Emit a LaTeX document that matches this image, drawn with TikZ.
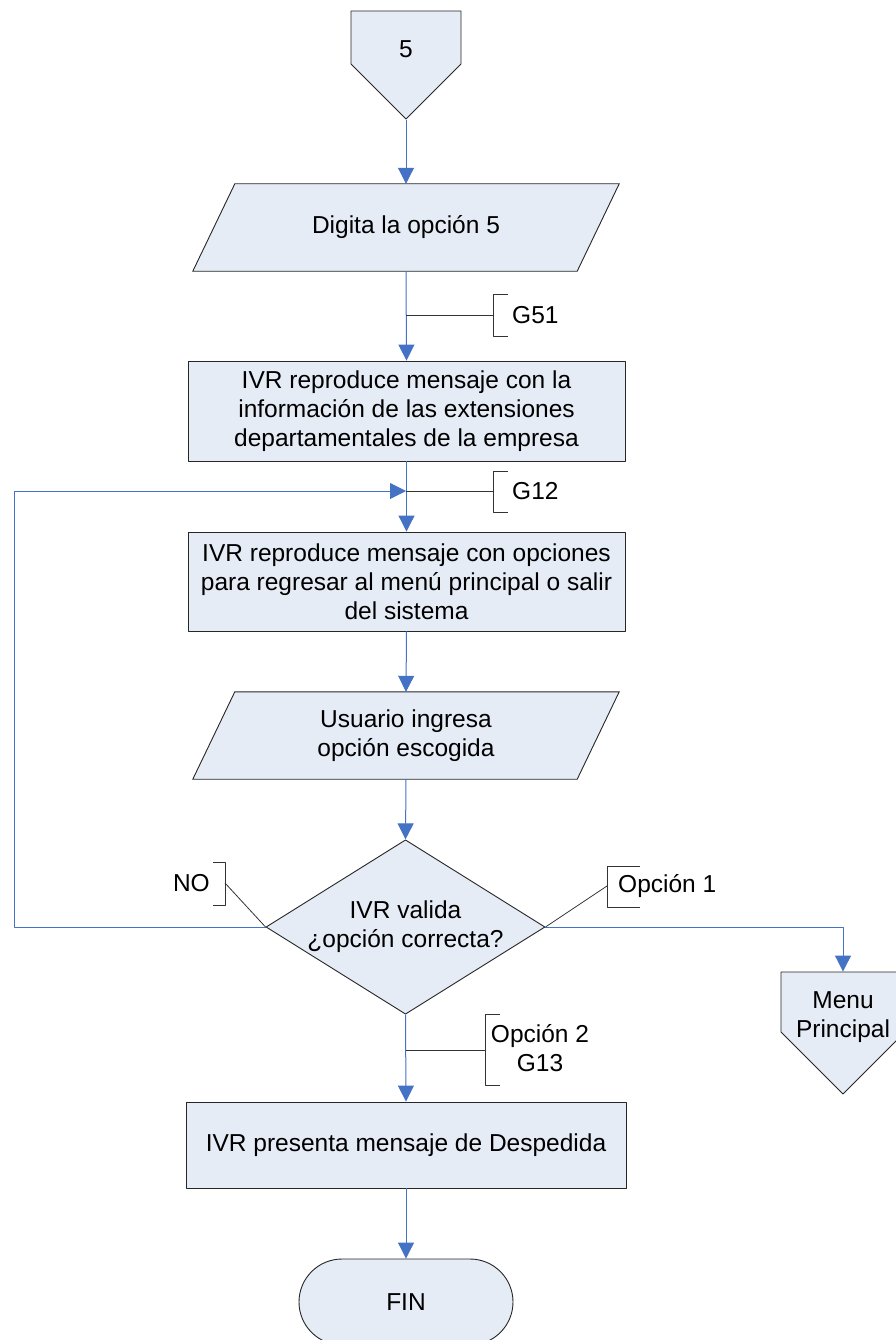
\documentclass[tikz,border=0pt]{standalone}
\usepackage{fontspec}
\setmainfont{Liberation Sans}
\usetikzlibrary{shapes.geometric,shapes.misc,shapes.symbols,arrows.meta,backgrounds}

\definecolor{flowblue}{RGB}{68,114,196}
\definecolor{boxfill}{RGB}{230,236,246}

\begin{document}
\begin{tikzpicture}[
  x=1pt, y=-1pt,
  line join=round,
  every node/.style={font=\fontsize{24.5}{29}\selectfont, align=center},
  box/.style={draw=black!85, fill=boxfill, line width=0.9pt, inner sep=2pt},
  process/.style={box, rectangle, minimum width=437pt},
  datain/.style={rectangle, inner sep=0pt, minimum width=426pt, minimum height=87pt},
  decision/.style={box, diamond, shape aspect=1.6, minimum width=279pt,
    minimum height=174pt, inner sep=0pt},
  offpage/.style={box, signal, signal to=south, signal from=nowhere, signal pointer angle=90},
  terminal/.style={box, rounded rectangle, minimum width=218pt, minimum height=86pt},
  flow/.style={draw=flowblue, line width=1pt, -{Triangle[width=16pt,length=16pt]}},
  note/.style={draw=black!80, line width=0.8pt}
]

\useasboundingbox (0,0) rectangle (895,1340);

% --- shapes, top to bottom ---
\node[offpage, minimum width=110pt, minimum height=55pt,
  label={[yshift=-12pt]center:5}] (c5) at (406,37.5) {};
\node[datain] (in5) at (406,227.5) {Digita la opción 5};
\node[process, minimum height=100pt] (msg1) at (406.5,411)
  {IVR reproduce mensaje con la\\información de las extensiones\\departamentales de la empresa};
\node[process, minimum height=99pt] (msg2) at (406.5,581.5)
  {IVR reproduce mensaje con opciones\\para regresar al menú principal o salir\\del sistema};
\node[datain] (in2) at (406,735.5) {Usuario ingresa\\opción escogida};
\node[decision] (chk) at (405.5,927) {IVR valida\\¿opción correcta?};
\node[offpage, minimum width=124pt, minimum height=62pt,
  label={[yshift=-15pt]center:{Menu\\Principal}}] (menu) at (843,1002) {};
\node[process, minimum width=440pt, minimum height=86pt] (bye) at (406,1145)
  {IVR presenta mensaje de Despedida};
\node[terminal] (fin) at (406,1302) {FIN};

% parallelograms for the two input steps
\begin{scope}[on background layer]
  \foreach \n in {in5,in2}
    \draw[box] ([xshift=42pt]\n.north west) -- (\n.north east)
      -- ([xshift=-42pt]\n.south east) -- (\n.south west) -- cycle;
\end{scope}

% junction points on the main line
\coordinate (j51) at (406,315);
\coordinate (j12) at (406,491);
\coordinate (j13) at (406,1050);
\coordinate (loopx) at (14,491);

% --- connectors ---
\draw[flow] (c5.south) -- (in5.north);
\draw[flow] (in5.south) -- (msg1.north);
\draw[flow] (msg1.south) -- (msg2.north);
\draw[flow] (msg2.south) -- (in2.north);
\draw[flow] (in2.south) -- (chk.north);
\draw[flow] (chk.west) -| (loopx) -- (j12);
\draw[flow] (chk.east) -| (menu.north);
\draw[flow] (chk.south) -- (bye.north);
\draw[flow] (bye.south) -- (fin.north);

% --- annotations ---
% G51
\draw[note] (j51) -- (493,315);
\draw[note] (508,294) -- (493,294) -- (493,336) -- (508,336);
\node[anchor=west, inner sep=0pt] (g51) at (512,315) {G51};

% G12
\draw[note] (j12) -- (493,491);
\draw[note] (508,471) -- (493,471) -- (493,512) -- (508,512);
\node[anchor=west, inner sep=0pt] (g12) at (512,491) {G12};

% NO
\draw[note] (chk.west) -- (225,883);
\draw[note] (213,862) -- (225,862) -- (225,905) -- (213,905);
\node[anchor=east, inner sep=0pt] (no) at (210,883) {NO};

% Opcion 1
\draw[note] (chk.east) -- (607,886);
\draw[note] (640,866) -- (607,866) -- (607,907) -- (640,907);
\node[anchor=west, inner sep=0pt] (op1) at (618,886) {Opción 1};

% Opcion 2 / G13
\draw[note] (j13) -- (485,1050);
\draw[note] (500,1014) -- (485,1014) -- (485,1085) -- (500,1085);
\node[inner sep=0pt] (op2) at (540,1048) {Opción 2\\G13};

\end{tikzpicture}
\end{document}
